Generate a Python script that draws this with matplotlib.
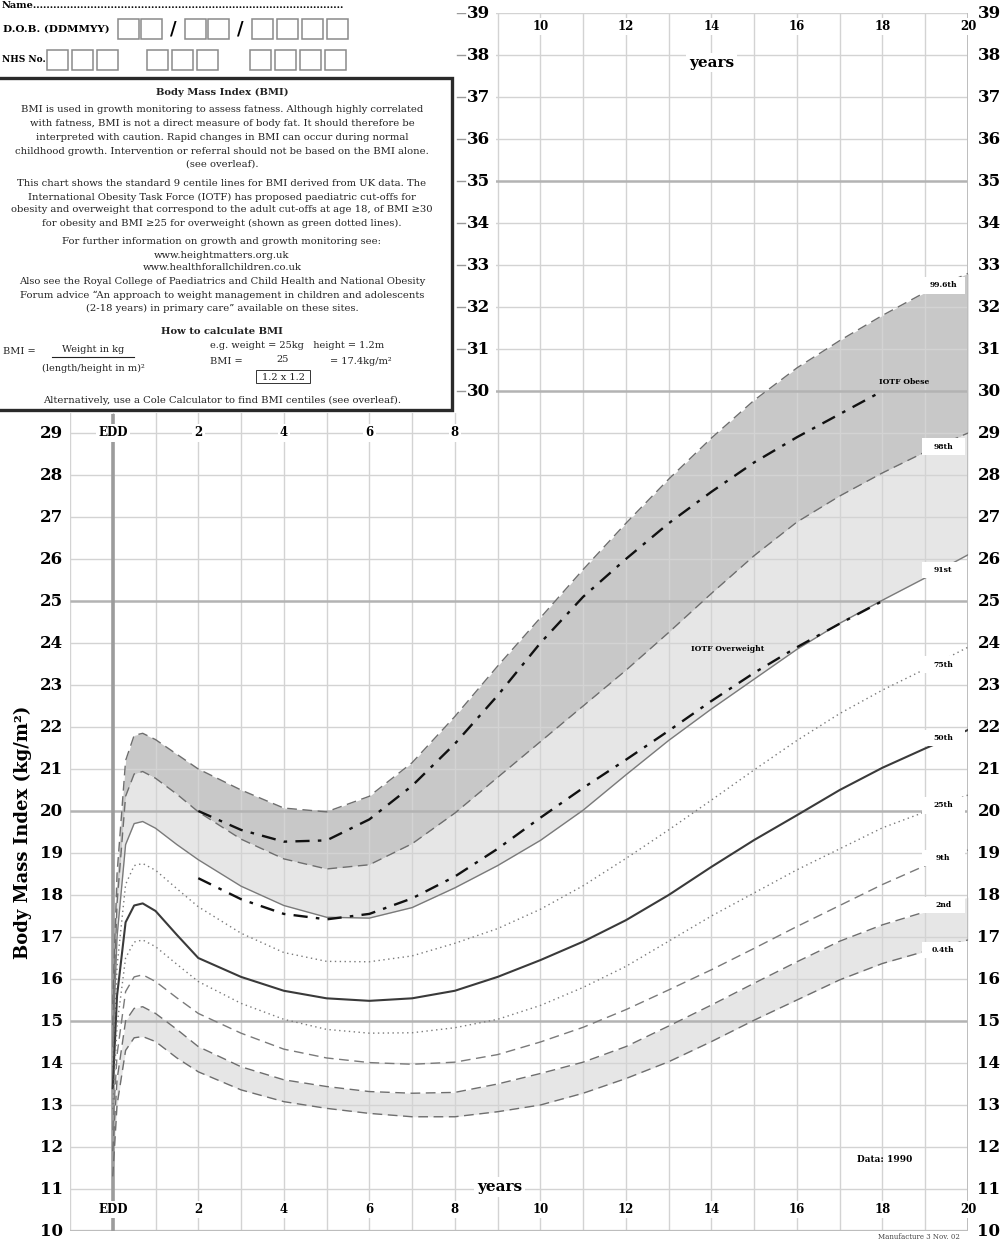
import numpy as np
import matplotlib.pyplot as plt
from matplotlib.patches import Rectangle

plt.rcParams['font.family'] = ['DejaVu Serif', 'DejaVu Sans']

# ---- data ----
age = [0, 0.1, 0.3, 0.5, 0.7, 1, 1.5, 2, 3, 4, 5, 6, 7, 8, 9, 10,
       11, 12, 13, 14, 15, 16, 17, 18, 19, 20]
p0_4 = [11.3, 13.0, 14.3, 14.6, 14.63, 14.51, 14.12, 13.79, 13.36, 13.08, 12.92, 12.8, 12.72,
        12.72, 12.84, 13.0, 13.28, 13.63, 14.03, 14.51, 15.02, 15.5, 15.98, 16.37, 16.66, 16.93]
p2 = [11.9, 13.6, 15.0, 15.3, 15.34, 15.18, 14.8, 14.39, 13.91, 13.6, 13.44, 13.32, 13.28,
      13.3, 13.5, 13.75, 14.02, 14.39, 14.88, 15.38, 15.9, 16.41, 16.9, 17.29, 17.6, 17.95]
p9 = [12.4, 14.2, 15.7, 16.05, 16.1, 15.94, 15.55, 15.18, 14.71, 14.33, 14.12, 14.01, 13.97,
      14.02, 14.2, 14.5, 14.85, 15.27, 15.74, 16.22, 16.73, 17.25, 17.75, 18.25, 18.7, 19.07]
p25 = [12.9, 14.9, 16.5, 16.88, 16.93, 16.77, 16.35, 15.94, 15.42, 15.04, 14.8, 14.71, 14.72,
       14.84, 15.04, 15.37, 15.8, 16.3, 16.9, 17.5, 18.05, 18.6, 19.1, 19.6, 19.98, 20.38]
p50 = [13.4, 15.6, 17.35, 17.75, 17.8, 17.62, 17.05, 16.5, 16.05, 15.72, 15.54, 15.48, 15.54,
       15.72, 16.05, 16.45, 16.89, 17.4, 18.0, 18.67, 19.31, 19.9, 20.5, 21.03, 21.49, 21.93]
p75 = [13.9, 16.3, 18.25, 18.7, 18.75, 18.59, 18.15, 17.72, 17.09, 16.63, 16.42, 16.41, 16.55,
       16.85, 17.2, 17.66, 18.22, 18.87, 19.55, 20.26, 20.98, 21.68, 22.32, 22.88, 23.38, 23.9]
p91 = [14.4, 17.0, 19.2, 19.7, 19.75, 19.59, 19.2, 18.84, 18.21, 17.75, 17.47, 17.45, 17.7,
       18.17, 18.7, 19.3, 20.02, 20.86, 21.68, 22.43, 23.14, 23.85, 24.47, 25.02, 25.55, 26.1]
p98 = [14.9, 17.8, 20.35, 20.88, 20.94, 20.78, 20.4, 19.98, 19.33, 18.86, 18.62, 18.72, 19.22,
       19.95, 20.8, 21.65, 22.5, 23.35, 24.25, 25.18, 26.08, 26.88, 27.5, 28.05, 28.55, 29.0]
p99_6 = [15.4, 18.5, 21.2, 21.8, 21.85, 21.7, 21.35, 21.0, 20.5, 20.07, 19.98, 20.35, 21.15,
         22.25, 23.45, 24.6, 25.75, 26.85, 27.9, 28.88, 29.78, 30.55, 31.2, 31.8, 32.35, 32.8]

iotf_age = [2, 3, 4, 5, 6, 7, 8, 9, 10, 11, 12, 13, 14, 15, 16, 17, 18]
iotf_obese = [20.0, 19.55, 19.27, 19.3, 19.8, 20.6, 21.6, 22.75, 24.0, 25.1, 26.0, 26.85,
              27.6, 28.3, 28.9, 29.45, 30.0]
iotf_over = [18.4, 17.9, 17.55, 17.42, 17.55, 17.92, 18.44, 19.1, 19.84, 20.55, 21.22, 21.91,
             22.62, 23.29, 23.9, 24.46, 25.0]

centile_names = ['99.6th', '98th', '91st', '75th', '50th', '25th', '9th', '2nd', '0.4th']
centile_label_y = [32.52, 28.67, 25.74, 23.48, 21.74, 20.14, 18.88, 17.76, 16.69]

bottom_years = [0, 2, 4, 6, 8, 10, 12, 14, 16, 18, 20]
bottom_labels = ['EDD', '2', '4', '6', '8', '10', '12', '14', '16', '18', '20']
mid_years = [0, 2, 4, 6, 8]
mid_labels = ['EDD', '2', '4', '6', '8']
top_years = [10, 12, 14, 16, 18, 20]
top_labels = ['10', '12', '14', '16', '18', '20']

W, H = 1003, 1243
fig = plt.figure(figsize=(W / 100, H / 100), dpi=100)
ax = fig.add_axes([70 / W, 12 / H, 898 / W, 1218 / H])
ax.set_xlim(-1, 20)
ax.set_ylim(10, 39)
ax.axis('off')

# grid
grid_c = '#d3d3d3'
ax.vlines(range(-1, 21), 10, 39, color=grid_c, lw=1.0, zorder=1)
for b in range(10, 40):
    if b % 5 == 0:
        ax.hlines(b, -1, 20, color='#b3b3b3', lw=1.8, zorder=1)
    else:
        ax.hlines(b, -1, 20, color=grid_c, lw=1.0, zorder=1)
ax.vlines(20, 10, 39, color='#bdbdbd', lw=1.4, zorder=1)
ax.hlines(10, -1, 20, color='#bdbdbd', lw=1.6, zorder=1)

# blank the top-left where the notes box sits
ax.add_patch(Rectangle((-1.5, 29.47), 10.47, 10, facecolor='white', edgecolor='none', zorder=2))
ax.vlines(0, 10, 29.45, color='#9c9c9c', lw=2.6, zorder=1.5)

# shaded bands
ax.fill_between(age, p98, p99_6, color='#c8c8c8', lw=0, zorder=0.5)
ax.fill_between(age, p91, p98, color='#e6e6e6', lw=0, zorder=0.5)
ax.fill_between(age, p0_4, p2, color='#e6e6e6', lw=0, zorder=0.5)

# centile lines
dash = (7, 4)
ax.plot(age, p99_6, color='#6e6e6e', lw=1.0, dashes=dash, zorder=3)
ax.plot(age, p98, color='#6e6e6e', lw=1.0, dashes=dash, zorder=3)
ax.plot(age, p91, color='#7a7a7a', lw=1.0, zorder=3)
ax.plot(age, p75, color='#7a7a7a', lw=1.0, dashes=(1, 2.5), zorder=3)
ax.plot(age, p50, color='#3a3a3a', lw=1.5, zorder=3)
ax.plot(age, p25, color='#7a7a7a', lw=1.0, dashes=(1, 2.5), zorder=3)
ax.plot(age, p9, color='#7a7a7a', lw=1.0, dashes=dash, zorder=3)
ax.plot(age, p2, color='#6e6e6e', lw=1.0, dashes=dash, zorder=3)
ax.plot(age, p0_4, color='#6e6e6e', lw=1.0, dashes=dash, zorder=3)

# IOTF cut-offs
ax.plot(iotf_age, iotf_obese, color='#111111', lw=1.7, dashes=(6, 3.5, 1.5, 3.5), zorder=4)
ax.plot(iotf_age, iotf_over, color='#111111', lw=1.7, dashes=(6, 3.5, 1.5, 3.5), zorder=4)

lab = dict(fontsize=5.5, fontweight='bold', ha='center', va='center', zorder=7)
for name, y in zip(centile_names, centile_label_y):
    ax.add_patch(Rectangle((18.92, y - 0.2), 1.0, 0.4, facecolor='white', edgecolor='none', zorder=6))
    ax.text(19.42, y, name, **lab)
ax.text(18.5, 30.22, 'IOTF Obese', **lab)
ax.text(14.37, 23.86, 'IOTF Overweight', **lab)
ax.text(18.05, 11.7, 'Data: 1990', fontsize=6.5, fontweight='bold', ha='center', va='center')

# axis labels
wbox = dict(facecolor='white', edgecolor='none', pad=1.5)
tk = dict(fontsize=8.5, fontweight='bold', ha='center', va='center', bbox=wbox, zorder=8)
for x, s in zip(bottom_years, bottom_labels):
    ax.text(x, 10.52, s, **tk)
for x, s in zip(mid_years, mid_labels):
    ax.text(x, 29.0, s, **tk)
for x, s in zip(top_years, top_labels):
    ax.text(x, 38.67, s, **tk)
ax.text(9.05, 11.05, 'years', fontsize=11, fontweight='bold', ha='center', va='center',
        bbox=dict(facecolor='white', edgecolor='none', pad=2), zorder=8)
ax.text(14.0, 37.82, 'years', fontsize=11, fontweight='bold', ha='center', va='center',
        bbox=dict(facecolor='white', edgecolor='none', pad=2), zorder=8)

num = dict(fontsize=12, fontweight='bold', va='center', clip_on=False, zorder=8)
for b in range(10, 30):
    ax.text(-1.17, b, str(b), ha='right', **num)
for b in range(10, 40):
    ax.text(20.22, b, str(b), ha='left', **num)
for b in range(30, 40):
    ax.text(8.56, b, str(b), ha='center', **num)
    ax.plot([8.05, 8.24], [b, b], color='#999999', lw=1.0, zorder=8)

ax.text(-2.1, 19.5, 'Body Mass Index (kg/m\u00b2)', rotation=90, fontsize=13, fontweight='bold',
        ha='center', va='center', clip_on=False)
fig.text(960 / W, 1 - 1237 / H, 'Manufacture 3 Nov. 02', fontsize=5, ha='right', va='center',
         color='#444444')


# ---- notes box and form fields (figure pixel positions) ----
def fx(px):
    return px / W


def fy(py):
    return 1 - py / H


fig.add_artist(Rectangle((fx(-10), fy(410)), fx(462), 332 / H, transform=fig.transFigure,
                         fill=False, lw=2.4, edgecolor='#2a2a2a', zorder=5))

notes = [
    (92, 'Body Mass Index (BMI)', 'bold'),
    (109, 'BMI is used in growth monitoring to assess fatness. Although highly correlated', 'normal'),
    (123, 'with fatness, BMI is not a direct measure of body fat. It should therefore be', 'normal'),
    (137, 'interpreted with caution. Rapid changes in BMI can occur during normal', 'normal'),
    (151, 'childhood growth. Intervention or referral should not be based on the BMI alone.', 'normal'),
    (164, '(see overleaf).', 'normal'),
    (183, 'This chart shows the standard 9 centile lines for BMI derived from UK data. The', 'normal'),
    (197, 'International Obesity Task Force (IOTF) has proposed paediatric cut-offs for', 'normal'),
    (210, 'obesity and overweight that correspond to the adult cut-offs at age 18, of BMI \u226530', 'normal'),
    (223, 'for obesity and BMI \u226525 for overweight (shown as green dotted lines).', 'normal'),
    (242, 'For further information on growth and growth monitoring see:', 'normal'),
    (255, 'www.heightmatters.org.uk', 'normal'),
    (268, 'www.healthforallchildren.co.uk', 'normal'),
    (282, 'Also see the Royal College of Paediatrics and Child Health and National Obesity', 'normal'),
    (295, 'Forum advice \u201cAn approach to weight management in children and adolescents', 'normal'),
    (308, '(2-18 years) in primary care\u201d available on these sites.', 'normal'),
    (332, 'How to calculate BMI', 'bold'),
    (400, 'Alternatively, use a Cole Calculator to find BMI centiles (see overleaf).', 'normal'),
]
for py, s, w in notes:
    fig.text(fx(222), fy(py), s, fontsize=7.2, fontweight=w, ha='center', va='center', color='#222222')

small = dict(fontsize=7.0, va='center', color='#222222')
fig.text(fx(3), fy(351), 'BMI =', ha='left', **small)
fig.text(fx(93), fy(349), 'Weight in kg', ha='center', **small)
fig.add_artist(plt.Line2D([fx(52), fx(134)], [fy(357), fy(357)], color='#222222', lw=0.8))
fig.text(fx(93), fy(368), '(length/height in m)\u00b2', ha='center', **small)
fig.text(fx(210), fy(345), 'e.g. weight = 25kg   height = 1.2m', ha='left', **small)
fig.text(fx(210), fy(361), 'BMI =', ha='left', **small)
fig.text(fx(283), fy(360), '25', ha='center', **small)
fig.text(fx(330), fy(361), '= 17.4kg/m\u00b2', ha='left', **small)
fig.add_artist(Rectangle((fx(256), fy(383)), 54 / W, 13 / H, transform=fig.transFigure,
                         fill=False, lw=0.7, edgecolor='#333333'))
fig.text(fx(283), fy(377), '1.2 x 1.2', ha='center', **small)

fig.text(fx(2), fy(5), 'Name' + '.' * 92, fontsize=7, fontweight='bold', ha='left', va='center')
fig.text(fx(110), fy(29), 'D.O.B. (DDMMYY)', fontsize=7.5, fontweight='bold', ha='right', va='center')
fig.text(fx(2), fy(60), 'NHS No.', fontsize=6.5, fontweight='bold', ha='left', va='center')
fig.text(fx(173), fy(29), '/', fontsize=13, fontweight='bold', ha='center', va='center')
fig.text(fx(240), fy(29), '/', fontsize=13, fontweight='bold', ha='center', va='center')

dob_boxes = [118, 141, 185, 208, 252, 277, 302, 327]
nhs_boxes = [47, 72, 97, 147, 172, 197, 250, 275, 300, 325]
for bx in dob_boxes:
    fig.add_artist(Rectangle((fx(bx), fy(39)), 21 / W, 20 / H, transform=fig.transFigure,
                             fill=False, lw=1.1, edgecolor='#8a8a8a'))
for bx in nhs_boxes:
    fig.add_artist(Rectangle((fx(bx), fy(70)), 21 / W, 20 / H, transform=fig.transFigure,
                             fill=False, lw=1.1, edgecolor='#8a8a8a'))

fig.savefig('out.png', dpi=100, facecolor='white')
